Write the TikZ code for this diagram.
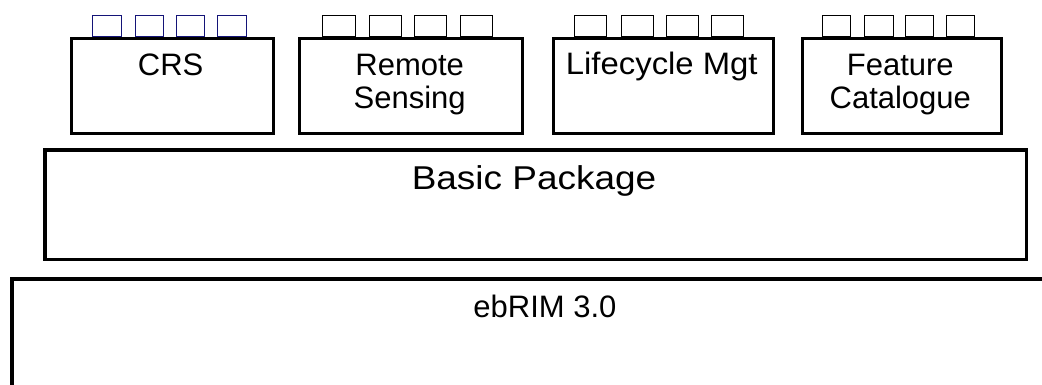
\documentclass[tikz,border=0pt]{standalone}
\usepackage{fontspec}
\setmainfont{Liberation Sans}
\definecolor{tabnavy}{RGB}{20,20,120}
\begin{document}
\begin{tikzpicture}[x=1pt,y=-1pt,
  box/.style={draw, line width=3pt, fill=white, inner sep=0pt, anchor=north west},
  tabbox/.style={draw, line width=1pt, fill=white, inner sep=0pt, anchor=south west, minimum height=21pt},
  lbl/.style={font=\fontsize{31}{33}\selectfont, align=center, anchor=base, inner sep=0pt}]
\path[use as bounding box, clip] (0,0) rectangle (1042,384);
\fill[white] (0,0) rectangle (1042,384);
% tabs
\foreach \a/\b [count=\i] in {92.3/121,135/163.3,176/204,217/246}
  \node[tabbox, draw=tabnavy, minimum width={\b-\a}] (crstab\i) at (\a,36.5) {};
\foreach \a/\b [count=\i] in {322/355,369/400.7,414/446,460/491.7}
  \node[tabbox, minimum width={\b-\a}] (rstab\i) at (\a,36.5) {};
\foreach \a/\b [count=\i] in {574/605.7,621/652.7,666/697.7,711/743}
  \node[tabbox, minimum width={\b-\a}] (lctab\i) at (\a,36.5) {};
\foreach \a/\b [count=\i] in {821.7/850,864/892.7,905/933,945.7/974.3}
  \node[tabbox, minimum width={\b-\a}] (fctab\i) at (\a,36.5) {};
% top boxes
\node[box, minimum width=202pt, minimum height=95pt] (crs) at (69.5,36.5) {};
\node[box, minimum width=222.7pt, minimum height=95pt] (rs) at (298.3,36.5) {};
\node[box, minimum width=220.3pt, minimum height=95pt] (lc) at (551.7,36.5) {};
\node[box, minimum width=199.3pt, minimum height=95pt] (fc) at (800.7,36.5) {};
% basic package
\node[box, line width=3.5pt, minimum width=981.4pt, minimum height=109.4pt] (bp) at (43.3,148.3) {};
% ebRIM
\node[box, line width=4pt, minimum width=1060pt, minimum height=130pt] (eb) at (10,276.7) {};
% labels
\node[lbl] (crsT) at (170.6,75) {CRS};
\node[lbl] (rsT) at (409.7,108) {Remote\\Sensing};
\node[lbl, xscale=1.06] (lcT) at (661.8,74) {Lifecycle Mgt};
\node[lbl] (fcT) at (900.3,108) {Feature\\Catalogue};
\node[lbl, font=\fontsize{33}{36}\selectfont, xscale=1.12] (bpT) at (534,189) {Basic Package};
\node[lbl] (ebT) at (545,317) {ebRIM 3.0};
\end{tikzpicture}
\end{document}
